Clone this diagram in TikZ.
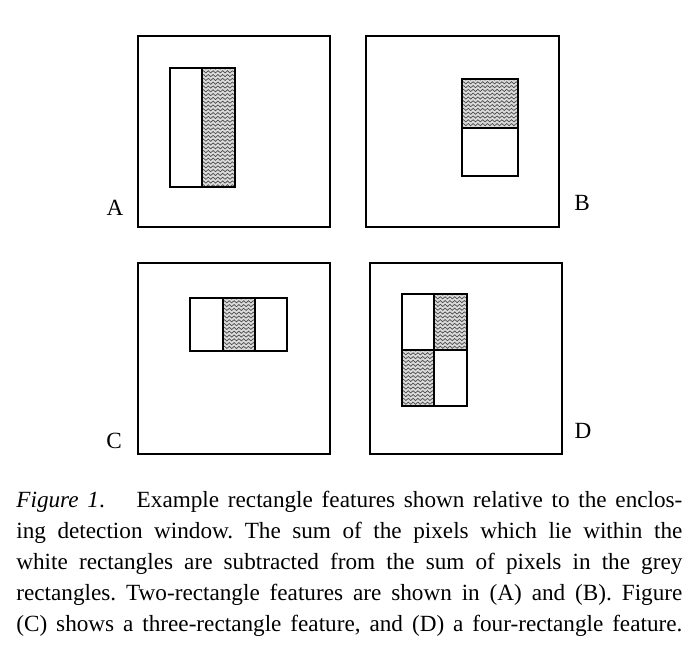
\documentclass[tikz,border=0pt]{standalone}
\usepackage{fontspec}
\setmainfont{Liberation Serif}
\usepackage{tikz}
\usetikzlibrary{decorations.pathmorphing, calc, positioning}

\tikzset{
    window/.style={line width=1pt},
    featline/.style={line width=1.2pt},
    greyrect/.style={fill=gray!28, path picture={
        \foreach \k in {0,...,34} {
            \draw[black!70, line width=0.35pt, decorate,
                  decoration={snake, amplitude=0.55pt, segment length=2.4pt}]
                ([yshift=-\k*1.9pt]path picture bounding box.north west) --
                ([yshift=-\k*1.9pt]path picture bounding box.north east);
        }
    }},
    lbl/.style={font=\fontsize{11.6}{13}\selectfont, anchor=base},
    capline/.style={font=\fontsize{11.6}{15.5}\selectfont\frenchspacing, anchor=base west}
}

\begin{document}
\begin{tikzpicture}[x=0.5pt, y=-0.5pt, every node/.style={inner sep=0pt}]
    \useasboundingbox (0,0) rectangle (693,645);

    % 1. the four detection windows
    \foreach \x/\y/\w in {138/36/192, 366/36/193, 138/263/192, 370/263/192} {
        \draw[window] (\x,\y) rectangle ++(\w,191);
    }

    % 2. grey parts of the features
    \fill[greyrect] (202,68) rectangle (235,187);   % A
    \fill[greyrect] (462,79) rectangle (518,128);   % B
    \fill[greyrect] (223,298) rectangle (255,351);  % C
    \fill[greyrect] (434,294) rectangle (467,350);  % D, top right
    \fill[greyrect] (402,350) rectangle (434,406);  % D, bottom left

    % 3. feature outlines and dividers
    \draw[featline] (170,68) rectangle (235,187) (202,68) -- (202,187);
    \draw[featline] (462,79) rectangle (518,176) (462,128) -- (518,128);
    \draw[featline] (190,298) rectangle (287,351) (223,298) -- (223,351) (255,298) -- (255,351);
    \draw[featline] (402,294) rectangle (467,406) (434,294) -- (434,406) (402,350) -- (467,350);

    % 4. letters beside the windows
    \node[lbl] (labA) at (115,215) {A};
    \node[lbl] (labB) at (582,210) {B};
    \node[lbl] (labC) at (114,448) {C};
    \node[lbl] (labD) at (583,438) {D};

    % 5. caption, one justified line per node
    \node[capline] (cap1) at (16,507) {\makebox[333pt][s]{\textit{Figure 1}.\hspace*{1em} Example rectangle features shown relative to the enclos-}};
    \node[capline] (cap2) at (16,538) {\makebox[333pt][s]{ing detection window. The sum of the pixels which lie within the}};
    \node[capline] (cap3) at (16,569) {\makebox[333pt][s]{white rectangles are subtracted from the sum of pixels in the grey}};
    \node[capline] (cap4) at (16,600) {\makebox[333pt][s]{rectangles. Two-rectangle features are shown in (A) and (B). Figure}};
    \node[capline] (cap5) at (16,631) {\makebox[333pt][s]{(C) shows a three-rectangle feature, and (D) a four-rectangle feature.}};

\end{tikzpicture}
\end{document}
